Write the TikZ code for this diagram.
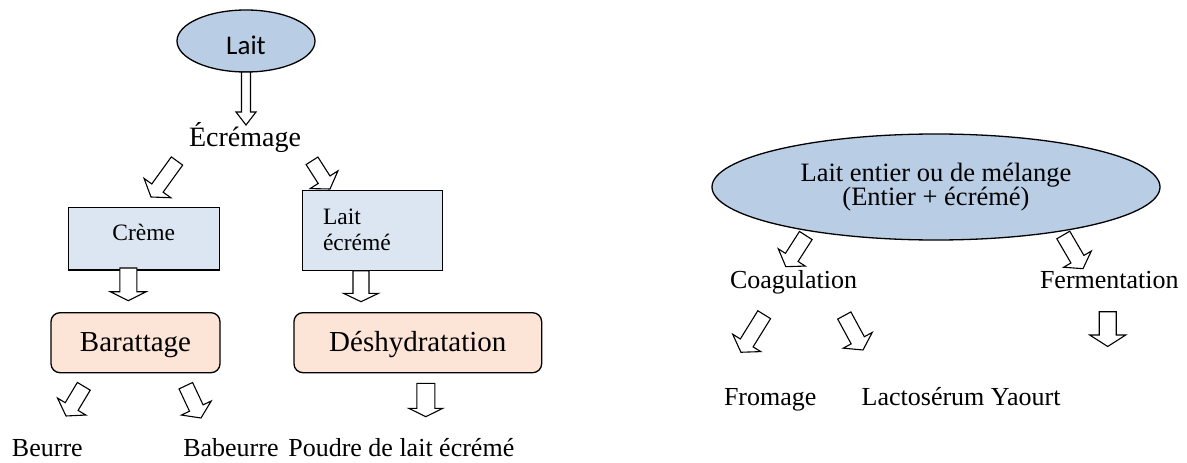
\documentclass[tikz,border=0pt]{standalone}
\usepackage{fontspec}
\setmainfont{Liberation Serif}
\newfontfamily\carl{Carlito}
\usetikzlibrary{calc,shapes.geometric}
\definecolor{ellfill}{HTML}{B9CDE5}
\definecolor{boxfill}{HTML}{DCE6F2}
\definecolor{procfill}{HTML}{FCE4D6}
\tikzset{
  every node/.style={inner sep=0pt, outer sep=0pt},
  ell/.style={ellipse, draw=black, line width=1.3pt, fill=ellfill},
  prodbox/.style={rectangle, draw=black, line width=1.3pt, fill=boxfill, font=\fontsize{23.5}{26}\selectfont},
  procbox/.style={rectangle, rounded corners=9pt, draw=black, line width=1.3pt, fill=procfill, font=\fontsize{29}{32}\selectfont, text height=18pt, text depth=0pt},
  barrow/.style={draw=black, fill=white, line width=1.1pt, line join=miter},
  lbl/.style={anchor=base west, font=\fontsize{26}{30}\selectfont},
}
% #1 tail, #2 tip, #3 shaft half width, #4 head half width, #5 head length
\newcommand\blockarrow[5]{\draw[barrow] let \p1=($(#2)-(#1)$), \n1={atan2(\y1,\x1)}, \n2={veclen(\x1,\y1)} in [shift={(#1)}, rotate=\n1] (0,-#3) -- ({\n2-#5},-#3) -- ({\n2-#5},-#4) -- (\n2,0) -- ({\n2-#5},#4) -- ({\n2-#5},#3) -- (0,#3) -- cycle;}
\begin{document}
\begin{tikzpicture}[x=1pt,y=-1pt]
\useasboundingbox (0,0) rectangle (1187,463);
% left tree
\node[ell, minimum width=138pt, minimum height=62pt, font=\carl\fontsize{27}{30}\selectfont, text height=26pt, text depth=0pt] (lait) at (246,41) {Lait};
\node[anchor=base, font=\fontsize{28}{32}\selectfont] (ecr) at (245,146.7) {Écrémage};
\node[prodbox, minimum width=151pt, minimum height=62.7pt, text height=8pt, text depth=4pt] (creme) at (143.8,238.7) {Crème};
\node[prodbox, minimum width=140pt, minimum height=80pt] (lecr) at (372.7,230.7) {};
\node[anchor=base west, font=\fontsize{23.5}{26}\selectfont] (lecr1) at (323,224) {Lait};
\node[anchor=base west, font=\fontsize{23.5}{26}\selectfont] (lecr2) at (323,250) {écrémé};
\node[procbox, minimum width=169pt, minimum height=60pt] (bar) at (135.5,342.7) {Barattage};
\node[procbox, minimum width=247.7pt, minimum height=60pt] (desh) at (417.8,342.7) {Déshydratation};
\node[lbl] (beurre) at (12,456.7) {Beurre};
\node[lbl] (babeurre) at (183.3,456.7) {Babeurre};
\node[lbl] (poudre) at (288.3,456.7) {Poudre de lait écrémé};
% right tree
\node[ell, minimum width=448pt, minimum height=106pt, align=center, font=\fontsize{26.5}{24.5}\selectfont] (le) at (936,187) {Lait entier ou de mélange\\(Entier + écrémé)};
\node[lbl] (coag) at (730,288) {Coagulation};
\node[lbl] (ferm) at (1040,288) {Fermentation};
\node[lbl] (fromage) at (724,405) {Fromage};
\node[lbl] (lacto) at (861.7,405) {Lactosérum Yaourt};
% arrow end points
\coordinate (a1s) at (246,72);    \coordinate (a1e) at (246,125);
\coordinate (a2s) at (177,161);   \coordinate (a2e) at (151,197);
\coordinate (a3s) at (312,160.8); \coordinate (a3e) at (330,189);
\coordinate (a4s) at (128.3,268); \coordinate (a4e) at (128.3,300.7);
\coordinate (a5s) at (361,270.7); \coordinate (a5e) at (361,301.7);
\coordinate (a6s) at (83.8,386.3); \coordinate (a6e) at (66,416);
\coordinate (a7s) at (185.8,385.7); \coordinate (a7e) at (201,418);
\coordinate (a8s) at (425.8,383.3); \coordinate (a8e) at (425.8,416.7);
\coordinate (a9s) at (805.8,235.5); \coordinate (a9e) at (785.8,266.7);
\coordinate (a10s) at (1063.3,235); \coordinate (a10e) at (1083,268.7);
\coordinate (a11s) at (764.2,314.7); \coordinate (a11e) at (740.9,352.3);
\coordinate (a12s) at (844.3,315.5); \coordinate (a12e) at (863,350);
\coordinate (a13s) at (1107.7,311.7); \coordinate (a13e) at (1107.7,346.5);
\blockarrow{a1s}{a1e}{4.5}{10}{13}
\blockarrow{a2s}{a2e}{7}{16.5}{11}
\blockarrow{a3s}{a3e}{7}{16.5}{11}
\blockarrow{a4s}{a4e}{8.5}{18}{9}
\blockarrow{a5s}{a5e}{8}{17.5}{8.4}
\blockarrow{a6s}{a6e}{7.5}{16.5}{11}
\blockarrow{a7s}{a7e}{7.5}{16.5}{11}
\blockarrow{a8s}{a8e}{9}{17}{8.4}
\blockarrow{a9s}{a9e}{7.5}{16}{11}
\blockarrow{a10s}{a10e}{7.5}{16}{11}
\blockarrow{a11s}{a11e}{7.5}{16.5}{11}
\blockarrow{a12s}{a12e}{7.5}{16.5}{11}
\blockarrow{a13s}{a13e}{8.5}{18}{11.5}
\end{tikzpicture}
\end{document}
